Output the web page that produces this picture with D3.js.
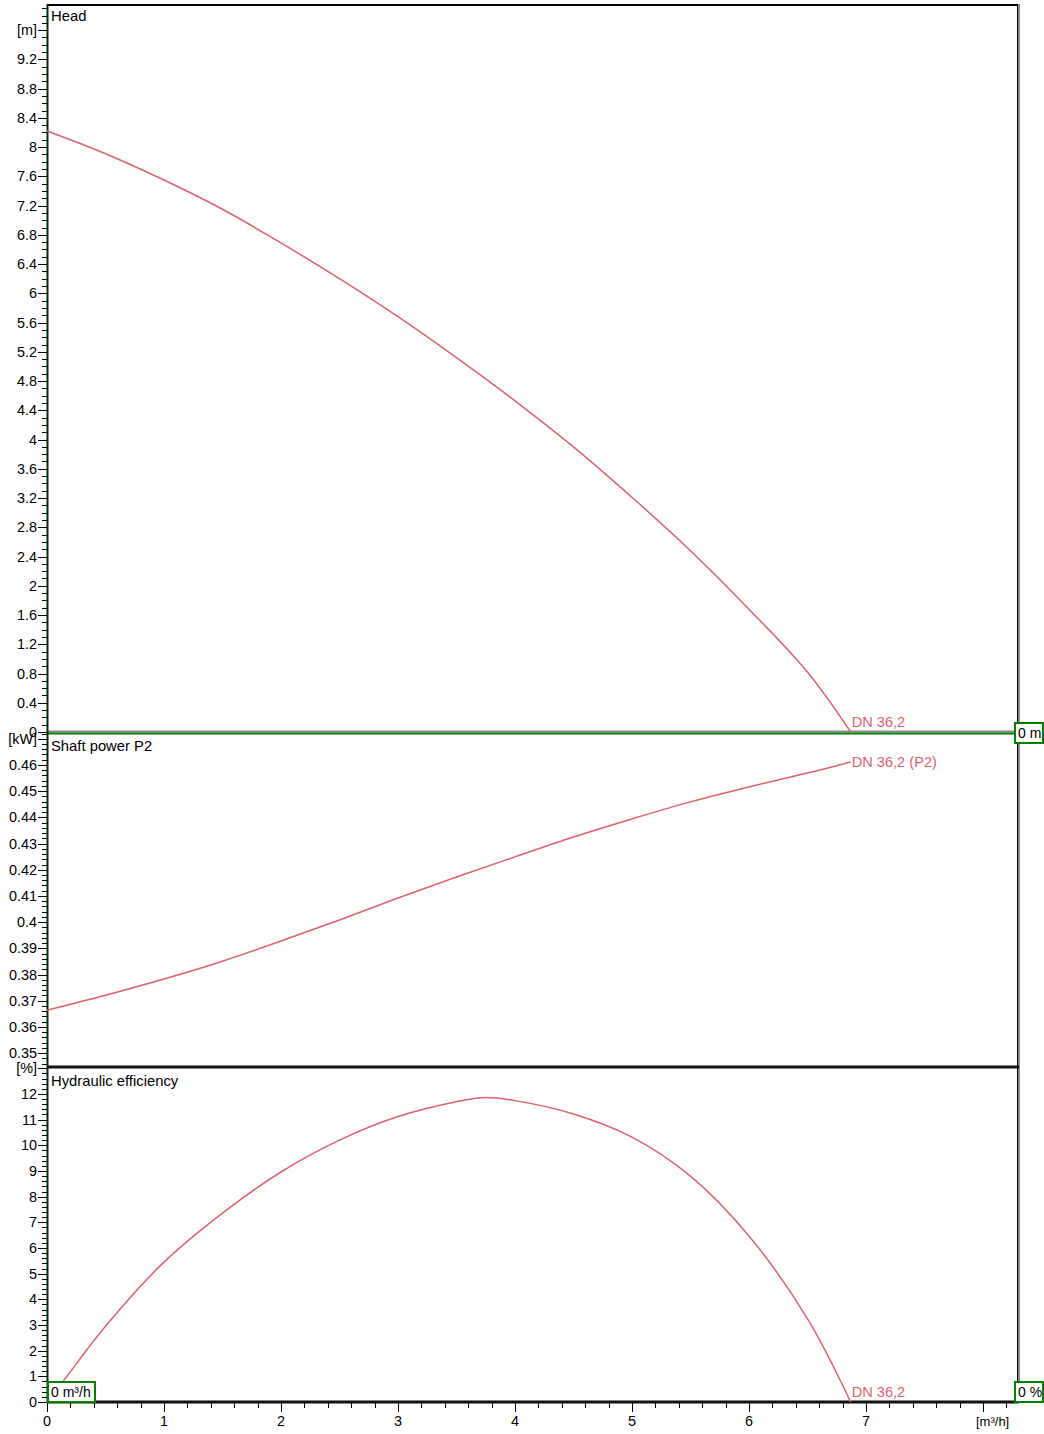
<!DOCTYPE html>
<html lang="en">
<head>
<meta charset="UTF-8">
<title>Pump curves</title>
<script src="https://d3js.org/d3.v7.min.js"></script>
<style>
  body { margin: 0; background: #fff; font-family: 'Liberation Sans', Arial, sans-serif; }
  svg text { font-family: 'Liberation Sans', Arial, sans-serif; }
</style>
</head>
<body>
<div id="chart"></div>
<script>
// flow points [m3/h]
const flow = [0, 0.5, 1, 1.5, 2, 2.5, 3, 3.5, 4, 4.5, 5, 5.5, 6, 6.5, 6.87];
const head = [8.22, 7.91, 7.55, 7.15, 6.69, 6.2, 5.68, 5.12, 4.53, 3.9, 3.21, 2.48, 1.68, 0.82, 0];
const power = [0.3664, 0.3721, 0.3783, 0.3851, 0.3928, 0.4008, 0.4092, 0.4172, 0.4249, 0.4325, 0.4394, 0.4459, 0.4516, 0.4569, 0.4611];
const effFlow = [0, 0.15, 0.5, 1, 1.5, 2, 2.5, 3, 3.5, 3.75, 4, 4.5, 5, 5.5, 6, 6.5, 6.87];
const eff = [0, 0.88, 2.95, 5.45, 7.36, 8.96, 10.2, 11.12, 11.7, 11.86, 11.74, 11.22, 10.32, 8.8, 6.47, 3.25, 0];

const curveName = "DN 36,2";
const curveColor = "#e0606e";
const green = "#008000";
const fs = 14.4;

const width = 1044, height = 1434;
const svg = d3.select("#chart").append("svg")
    .attr("width", width).attr("height", height)
    .style("display", "block");
svg.append("rect").attr("width", width).attr("height", height).attr("fill", "#fff");

const x = d3.scaleLinear().domain([0, 8.3]).range([47, 1018]);
const yH = d3.scaleLinear().domain([0, 9.93]).range([732, 6]);
const yP = d3.scaleLinear().domain([0.3447, 0.4722]).range([1067, 733]);
const yE = d3.scaleLinear().domain([0, 13.05]).range([1402, 1067]);

// left axis ticks for one panel
function leftTicks(y, majors, minors, unit, unitValue, fmt) {
  const g = svg.append("g");
  g.selectAll(".mn").data(minors).enter().append("line")
    .attr("x1", 42).attr("x2", 47)
    .attr("y1", d => Math.round(y(d)) + 0.5).attr("y2", d => Math.round(y(d)) + 0.5)
    .attr("stroke", "#000");
  g.selectAll(".mj").data(majors).enter().append("line")
    .attr("x1", 38).attr("x2", 47)
    .attr("y1", d => Math.round(y(d)) + 0.5).attr("y2", d => Math.round(y(d)) + 0.5)
    .attr("stroke", "#000");
  g.selectAll(".lb").data(majors).enter().append("text")
    .attr("x", 37).attr("y", d => y(d)).attr("dy", "0.35em")
    .attr("text-anchor", "end").attr("font-size", fs)
    .text(fmt);
  g.append("line").attr("x1", 38).attr("x2", 47)
    .attr("y1", Math.round(y(unitValue)) + 0.5).attr("y2", Math.round(y(unitValue)) + 0.5)
    .attr("stroke", "#000");
  g.append("text").attr("x", 37).attr("y", y(unitValue)).attr("dy", "0.35em")
    .attr("text-anchor", "end").attr("font-size", fs).text(unit);
}

const r = (a, b, s) => d3.range(Math.round(a / s), Math.round(b / s) + 1).map(i => +(i * s).toFixed(4));

leftTicks(yH, r(0, 9.2, 0.4), r(0, 9.9, 0.1), "[m]", 9.6, d => d3.format("~g")(d));
leftTicks(yP, r(0.35, 0.46, 0.01), r(0.346, 0.472, 0.002), "[kW]", 0.47, d => d3.format("~g")(d));
leftTicks(yE, r(0, 12, 1), r(0, 13, 0.2), "[%]", 13, d => d);

// x axis ticks at bottom
const xg = svg.append("g");
xg.selectAll(".mn").data(r(0, 8.2, 0.2)).enter().append("line")
  .attr("x1", d => Math.round(x(d)) + 0.5).attr("x2", d => Math.round(x(d)) + 0.5)
  .attr("y1", 1402).attr("y2", 1408).attr("stroke", "#000");
xg.selectAll(".mj").data(r(0, 8, 1)).enter().append("line")
  .attr("x1", d => Math.round(x(d)) + 0.5).attr("x2", d => Math.round(x(d)) + 0.5)
  .attr("y1", 1402).attr("y2", 1412).attr("stroke", "#000");
xg.selectAll(".lb").data(r(0, 7, 1)).enter().append("text")
  .attr("x", d => x(d)).attr("y", 1426).attr("text-anchor", "middle")
  .attr("font-size", fs).text(d => d);
xg.append("text").attr("x", 976).attr("y", 1426)
  .attr("font-size", 13).text("[m³/h]");

// panel frames
svg.append("line").attr("x1", 47).attr("x2", 1019).attr("y1", 5).attr("y2", 5)
  .attr("stroke", "#000").attr("stroke-width", 2);
svg.append("line").attr("x1", 1018.5).attr("x2", 1018.5).attr("y1", 4).attr("y2", 1403)
  .attr("stroke", "#888").attr("stroke-width", 3);
svg.append("line").attr("x1", 1017.5).attr("x2", 1017.5).attr("y1", 4).attr("y2", 1403)
  .attr("stroke", "#000").attr("stroke-width", 1);
svg.append("line").attr("x1", 47).attr("x2", 1019).attr("y1", 731.5).attr("y2", 731.5)
  .attr("stroke", "#888").attr("stroke-width", 2);
svg.append("line").attr("x1", 47).attr("x2", 1015).attr("y1", 733.5).attr("y2", 733.5)
  .attr("stroke", green).attr("stroke-width", 2);
svg.append("line").attr("x1", 47).attr("x2", 1019).attr("y1", 1067).attr("y2", 1067)
  .attr("stroke", "#111").attr("stroke-width", 3);
svg.append("line").attr("x1", 47).attr("x2", 1019).attr("y1", 1402).attr("y2", 1402)
  .attr("stroke", "#111").attr("stroke-width", 3);
svg.append("line").attr("x1", 47.5).attr("x2", 47.5).attr("y1", 4).attr("y2", 1403)
  .attr("stroke", "#0b2a0b").attr("stroke-width", 2);

// panel titles
const titles = [["Head", 21], ["Shaft power P2", 751], ["Hydraulic efficiency", 1086]];
svg.selectAll(".title").data(titles).enter().append("text")
  .attr("x", 51).attr("y", d => d[1]).attr("font-size", 14.8).text(d => d[0]);

// curves
const smooth = d3.curveCatmullRom.alpha(0.5);
const lineH = d3.line().x((d, i) => x(flow[i])).y(d => yH(d)).curve(smooth);
const lineP = d3.line().x((d, i) => x(flow[i])).y(d => yP(d)).curve(smooth);
const lineE = d3.line().x((d, i) => x(effFlow[i])).y(d => yE(d)).curve(smooth);
[[head, lineH], [power, lineP], [eff, lineE]].forEach(([data, line]) => {
  svg.append("path").attr("d", line(data)).attr("fill", "none")
    .attr("stroke", curveColor).attr("stroke-width", 1.5);
});

const last = flow[flow.length - 1];
const lfs = 14.6;
svg.append("text").attr("x", x(last) + 1).attr("y", yH(0) - 5).attr("font-size", lfs)
  .attr("fill", curveColor).text(curveName);
svg.append("text").attr("x", x(last) + 1).attr("y", yP(power[power.length - 1]) + 5).attr("font-size", lfs)
  .attr("fill", curveColor).text(curveName + " (P2)");
svg.append("text").attr("x", x(last) + 1).attr("y", yE(0) - 5).attr("font-size", lfs)
  .attr("fill", curveColor).text(curveName);

// green marker boxes
function box(bx, by, w, h, label) {
  svg.append("rect").attr("x", bx).attr("y", by).attr("width", w).attr("height", h)
    .attr("fill", "#fff").attr("stroke", green).attr("stroke-width", 2);
  svg.append("text").attr("x", bx + 3).attr("y", by + h / 2).attr("dy", "0.35em")
    .attr("font-size", 14).text(label);
}
box(1015, 723, 28, 20, "0 m");
box(1015, 1382, 28, 20, "0 %");
box(48, 1382, 47, 20, "0 m³/h");
</script>
</body>
</html>
